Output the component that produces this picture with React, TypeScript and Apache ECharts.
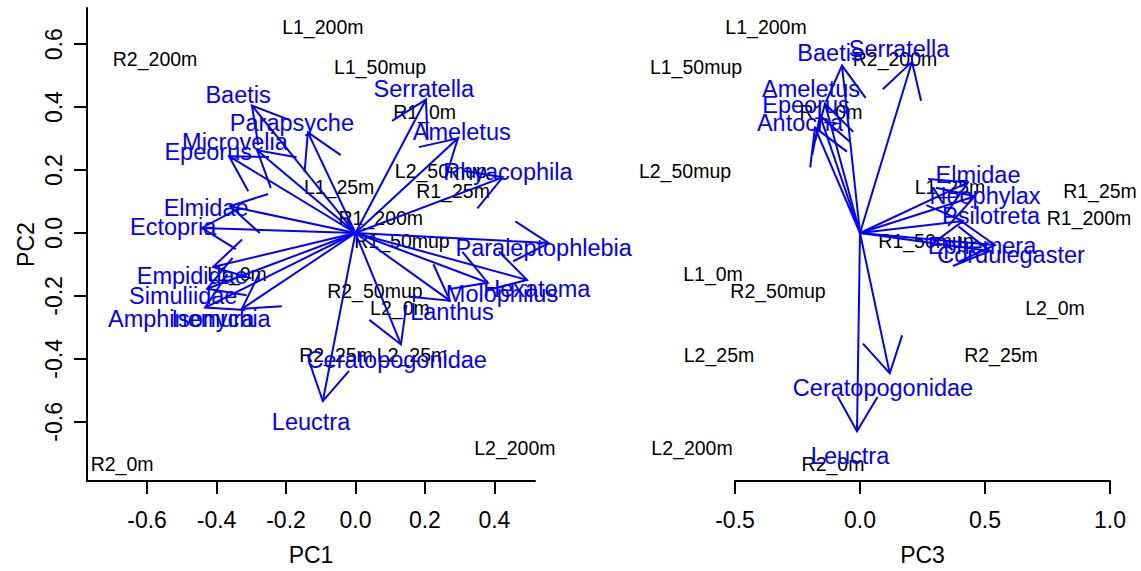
import React, { useEffect, useRef } from "react";
import * as echarts from "echarts";

// Site scores (black labels)
const siteNames = [
  "L1_200m", "R2_200m", "L1_50mup", "R1_0m", "L1_25m", "L2_50mup", "R1_25m", "R1_200m",
  "R1_50mup", "R2_50mup", "L2_0m", "R2_25m", "L2_25m", "L2_200m", "R2_0m", "L1_0m",
];
const sitePC1 = [-0.094, -0.577, 0.071, 0.199, -0.047, 0.246, 0.281, 0.073, 0.134, 0.056, 0.128, -0.056, 0.163, 0.459, -0.672, -0.341];
const sitePC2 = [0.655, 0.554, 0.528, 0.383, 0.146, 0.196, 0.133, 0.047, -0.025, -0.184, -0.237, -0.389, -0.389, -0.684, -0.734, -0.13];
const sitePC3 = [-0.376, 0.14, -0.656, -0.116, 0.36, -0.7, 0.96, 0.916, 0.264, -0.328, 0.78, 0.564, -0.564, -0.672, -0.108, -0.588];

// Taxon loadings, PC1 x PC2 panel (arrow tips and label anchors)
const taxaA = [
  "Baetis", "Parapsyche", "Microvelia", "Epeorus", "Elmidae", "Ectopria", "Empididae", "Simuliidae",
  "Amphinemura", "Isonychia", "Serratella", "Ameletus", "Rhyacophila", "Paraleptophlebia", "Hexatoma",
  "Molophilus", "Lanthus", "Ceratopogonidae", "Leuctra",
];
const tipA_PC1 = [-0.298, -0.137, -0.283, -0.364, -0.361, -0.442, -0.41, -0.427, -0.433, -0.327, 0.203, 0.295, 0.424, 0.557, 0.494, 0.381, 0.272, 0.131, -0.094];
const tipA_PC2 = [0.405, 0.32, 0.263, 0.244, 0.085, 0.016, -0.108, -0.177, -0.237, -0.241, 0.424, 0.301, 0.177, -0.032, -0.149, -0.158, -0.215, -0.354, -0.534];
const labA_PC1 = [-0.338, -0.183, -0.347, -0.424, -0.43, -0.525, -0.47, -0.496, -0.502, -0.387, 0.197, 0.306, 0.439, 0.542, 0.522, 0.422, 0.278, 0.119, -0.128];
const labA_PC2 = [0.44, 0.348, 0.288, 0.259, 0.079, 0.019, -0.136, -0.199, -0.272, -0.272, 0.459, 0.32, 0.193, -0.047, -0.177, -0.193, -0.25, -0.402, -0.601];

// Taxon loadings, PC3 x PC2 panel
const taxaB = [
  "Baetis", "Serratella", "Ameletus", "Epeorus", "Antocha", "Elmidae", "Neophylax", "Psilotreta",
  "Ephemera", "Cordulegaster", "Ceratopogonidae", "Leuctra",
];
const tipB_PC3 = [-0.072, 0.208, -0.14, -0.16, -0.18, 0.432, 0.46, 0.412, 0.54, 0.52, 0.119, -0.012];
const tipB_PC2 = [0.532, 0.544, 0.411, 0.373, 0.335, 0.161, 0.117, 0.038, -0.038, -0.057, -0.446, -0.63];
const labB_PC3 = [-0.12, 0.156, -0.196, -0.216, -0.24, 0.472, 0.5, 0.524, 0.488, 0.604, 0.092, -0.04];
const labB_PC2 = [0.573, 0.585, 0.459, 0.408, 0.351, 0.184, 0.117, 0.054, -0.041, -0.07, -0.491, -0.709];

const ticksPC1 = [-0.6, -0.4, -0.2, 0.0, 0.2, 0.4];
const ticksPC2 = [-0.6, -0.4, -0.2, 0.0, 0.2, 0.4, 0.6];

const BLUE = "#0000ff";
const FONT = '"Liberation Sans", Arial, sans-serif';
const HEAD = 40;
const SPREAD = Math.PI / 6;

const arrowRenderer = (params: any, api: any) => {
  const o = api.coord([0, 0]);
  const t = api.coord([api.value(0), api.value(1)]);
  const a = Math.atan2(o[1] - t[1], o[0] - t[0]);
  const h1 = [t[0] + HEAD * Math.cos(a + SPREAD), t[1] + HEAD * Math.sin(a + SPREAD)];
  const h2 = [t[0] + HEAD * Math.cos(a - SPREAD), t[1] + HEAD * Math.sin(a - SPREAD)];
  return {
    type: "group",
    children: [
      { type: "line", shape: { x1: o[0], y1: o[1], x2: t[0], y2: t[1] }, style: { stroke: BLUE, lineWidth: 2 } },
      { type: "polyline", shape: { points: [h1, t, h2] }, style: { stroke: BLUE, lineWidth: 2, fill: null } },
    ],
  };
};

const textRenderer = (names: string[], color: string, size: number) => (params: any, api: any) => {
  const p = api.coord([api.value(0), api.value(1)]);
  return {
    type: "text",
    x: p[0],
    y: p[1],
    style: {
      text: names[params.dataIndex],
      fill: color,
      font: `${size}px ${FONT}`,
      align: "center",
      verticalAlign: "middle",
    },
  };
};

const pairs = (xs: number[], ys: number[]) => xs.map((x, i) => [x, ys[i]]);

const axisText = { color: "#000", fontSize: 23, fontFamily: FONT };
const axisLine = { show: true, onZero: false, lineStyle: { color: "#000", width: 2 } };
const axisTickStyle = { show: true, length: 13, lineStyle: { color: "#000", width: 2 } };

export default function App() {
  const ref = useRef<HTMLDivElement>(null);

  useEffect(() => {
    if (!ref.current) return;
    const chart = echarts.init(ref.current, undefined, { renderer: "svg" });
    const yMin = -0.788;
    const yMax = 0.715;
    chart.setOption({
      animation: false,
      backgroundColor: "#fff",
      textStyle: { fontFamily: FONT },
      grid: [
        { left: 87, top: 8, width: 448, height: 475 },
        { left: 735, top: 8, width: 375, height: 475 },
      ],
      xAxis: [
        {
          gridIndex: 0,
          type: "value",
          min: -0.773,
          max: 0.517,
          name: "PC1",
          nameLocation: "middle",
          nameGap: 62,
          nameTextStyle: axisText,
          axisLine,
          axisTick: { ...axisTickStyle, customValues: ticksPC1 },
          axisLabel: { ...axisText, margin: 27, customValues: ticksPC1, formatter: (v: number) => v.toFixed(1) },
          splitLine: { show: false },
        },
        {
          gridIndex: 1,
          type: "value",
          min: -0.5,
          max: 1.0,
          interval: 0.5,
          name: "PC3",
          nameLocation: "middle",
          nameGap: 62,
          nameTextStyle: axisText,
          axisLine,
          axisTick: axisTickStyle,
          axisLabel: { ...axisText, margin: 27, formatter: (v: number) => v.toFixed(1) },
          splitLine: { show: false },
        },
      ],
      yAxis: [
        {
          gridIndex: 0,
          type: "value",
          min: yMin,
          max: yMax,
          name: "PC2",
          nameLocation: "middle",
          nameRotate: 90,
          nameGap: 50,
          nameTextStyle: axisText,
          axisLine,
          axisTick: { ...axisTickStyle, customValues: ticksPC2 },
          axisLabel: { ...axisText, rotate: 90, margin: 22, customValues: ticksPC2, formatter: (v: number) => v.toFixed(1) },
          splitLine: { show: false },
        },
        {
          gridIndex: 1,
          type: "value",
          min: yMin,
          max: yMax,
          show: false,
          splitLine: { show: false },
        },
      ],
      series: [
        {
          type: "custom",
          xAxisIndex: 0,
          yAxisIndex: 0,
          clip: false,
          silent: true,
          renderItem: textRenderer(siteNames, "#000", 19.5),
          data: pairs(sitePC1, sitePC2),
        },
        {
          type: "custom",
          xAxisIndex: 0,
          yAxisIndex: 0,
          clip: false,
          silent: true,
          renderItem: textRenderer(taxaA, BLUE, 23.5),
          data: pairs(labA_PC1, labA_PC2),
        },
        {
          type: "custom",
          xAxisIndex: 0,
          yAxisIndex: 0,
          clip: false,
          silent: true,
          renderItem: arrowRenderer,
          data: pairs(tipA_PC1, tipA_PC2),
        },
        {
          type: "custom",
          xAxisIndex: 1,
          yAxisIndex: 1,
          clip: false,
          silent: true,
          renderItem: textRenderer(siteNames, "#000", 19.5),
          data: pairs(sitePC3, sitePC2),
        },
        {
          type: "custom",
          xAxisIndex: 1,
          yAxisIndex: 1,
          clip: false,
          silent: true,
          renderItem: textRenderer(taxaB, BLUE, 23.5),
          data: pairs(labB_PC3, labB_PC2),
        },
        {
          type: "custom",
          xAxisIndex: 1,
          yAxisIndex: 1,
          clip: false,
          silent: true,
          renderItem: arrowRenderer,
          data: pairs(tipB_PC3, tipB_PC2),
        },
      ],
    });
    return () => chart.dispose();
  }, []);

  return (
    <div
      ref={ref}
      style={{ position: "fixed", left: 0, top: 0, width: 1141, height: 571, background: "#fff" }}
    />
  );
}
